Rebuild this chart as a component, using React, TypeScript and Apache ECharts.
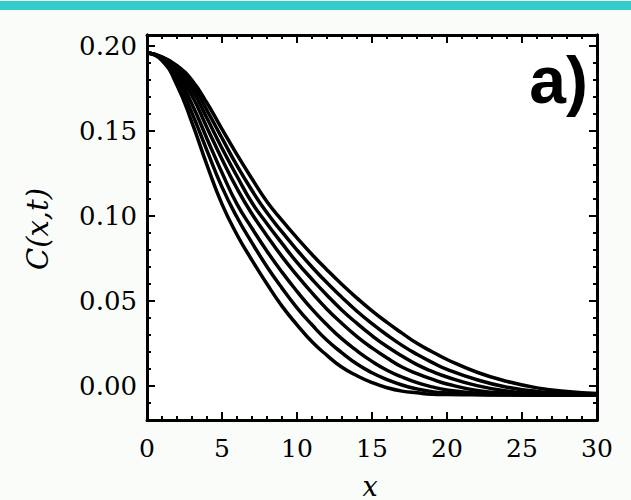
import React, { useEffect, useRef } from "react";
import * as echarts from "echarts";

const X_VALUES = [0, 1, 2, 3, 4, 5, 6, 7, 8, 9, 10, 11, 12, 13, 14, 15, 16, 17, 18, 19, 20, 22, 24, 26, 28, 30];

const CURVE_1 = [0.196, 0.1915, 0.177, 0.155, 0.13, 0.107, 0.089, 0.074, 0.06, 0.047, 0.036, 0.026, 0.018, 0.011, 0.006, 0.002, -0.001, -0.003, -0.004, -0.0048, -0.005, -0.0052, -0.0053, -0.0054, -0.0055, -0.0055];
const CURVE_2 = [0.196, 0.1922, 0.1805, 0.1605, 0.1385, 0.117, 0.0993, 0.0842, 0.0702, 0.0576, 0.046, 0.036, 0.0269, 0.0195, 0.0129, 0.0078, 0.0038, 0.0006, -0.0017, -0.0033, -0.0041, -0.005, -0.0052, -0.0053, -0.0054, -0.0055];
const CURVE_3 = [0.196, 0.1927, 0.1827, 0.1658, 0.1455, 0.1255, 0.107, 0.0928, 0.0793, 0.067, 0.0557, 0.0452, 0.036, 0.0277, 0.0207, 0.0145, 0.0093, 0.0053, 0.002, -0.0005, -0.0023, -0.0043, -0.005, -0.0052, -0.0053, -0.0054];
const CURVE_4 = [0.196, 0.1929, 0.1846, 0.1708, 0.152, 0.1334, 0.1162, 0.1012, 0.0883, 0.0761, 0.0651, 0.0548, 0.0452, 0.0368, 0.0291, 0.0224, 0.0165, 0.0112, 0.0073, 0.004, 0.0012, -0.0026, -0.0043, -0.005, -0.0052, -0.0053];
const CURVE_5 = [0.196, 0.1932, 0.1861, 0.1745, 0.1575, 0.1399, 0.1234, 0.1078, 0.0955, 0.0839, 0.0727, 0.0628, 0.0534, 0.0446, 0.0368, 0.0296, 0.0232, 0.0176, 0.0126, 0.0086, 0.0053, 0.0002, -0.003, -0.0044, -0.005, -0.0051];
const CURVE_6 = [0.196, 0.1934, 0.1875, 0.1775, 0.1622, 0.1458, 0.1296, 0.115, 0.1019, 0.0907, 0.08, 0.07, 0.0607, 0.0521, 0.044, 0.0367, 0.03, 0.0239, 0.0186, 0.0139, 0.0098, 0.0037, -0.0007, -0.0032, -0.0044, -0.005];
const CURVE_7 = [0.196, 0.1936, 0.1885, 0.1798, 0.1665, 0.1511, 0.1361, 0.1219, 0.1084, 0.0975, 0.0872, 0.0774, 0.0683, 0.0597, 0.0517, 0.0442, 0.0374, 0.0311, 0.0251, 0.0202, 0.0156, 0.0081, 0.0027, -0.0011, -0.0033, -0.0044];

const CURVES = [CURVE_1, CURVE_2, CURVE_3, CURVE_4, CURVE_5, CURVE_6, CURVE_7];

const Y_MAJOR_TICKS = [0, 0.05, 0.1, 0.15, 0.2];
const Y_MINOR_TICKS = [-0.01, 0.01, 0.02, 0.03, 0.04, 0.06, 0.07, 0.08, 0.09, 0.11, 0.12, 0.13, 0.14, 0.16, 0.17, 0.18, 0.19];

const Y_MIN = -0.02;
const Y_MAX = 0.2065;

export default function App() {
  const ref = useRef<HTMLDivElement>(null);
  useEffect(() => {
    if (!ref.current) return;
    const chart = echarts.init(ref.current, null, { renderer: "svg" });
    const serif = "DejaVu Serif";
    const axisLine = { show: true, onZero: false, lineStyle: { color: "#000", width: 3 } };
    const makeX = (position: string, labels: boolean) => ({
      type: "value",
      position,
      min: 0,
      max: 30,
      interval: 5,
      axisLine,
      axisTick: { show: true, inside: true, length: 8, lineStyle: { color: "#000", width: 2 } },
      minorTick: { show: true, splitNumber: 5, length: 4, lineStyle: { color: "#000", width: 2 } },
      axisLabel: labels
        ? { show: true, color: "#000", fontFamily: serif, fontSize: 25, margin: 16 }
        : { show: false },
      splitLine: { show: false },
      minorSplitLine: { show: false },
    });
    const makeY = (position: string, ticks: number[], len: number, labels: boolean) => ({
      type: "value",
      position,
      min: Y_MIN,
      max: Y_MAX,
      axisLine,
      axisTick: { show: true, inside: true, length: len, customValues: ticks, lineStyle: { color: "#000", width: 2 } },
      axisLabel: labels
        ? {
            show: true,
            color: "#000",
            fontFamily: serif,
            fontSize: 26,
            margin: 10,
            customValues: ticks,
            formatter: (v: number) => v.toFixed(2),
          }
        : { show: false },
      splitLine: { show: false },
    });
    chart.setOption({
      animation: false,
      backgroundColor: "#fafcfa",
      grid: { left: 147, right: 34, top: 35, bottom: 80, show: true, backgroundColor: "#ffffff", borderWidth: 0 },
      xAxis: [makeX("bottom", true), makeX("top", false)],
      yAxis: [
        makeY("left", Y_MAJOR_TICKS, 8, true),
        makeY("left", Y_MINOR_TICKS, 4, false),
        makeY("right", Y_MAJOR_TICKS, 8, false),
        makeY("right", Y_MINOR_TICKS, 4, false),
      ],
      series: CURVES.map((c, i) => ({
        type: "line",
        name: "curve " + (i + 1),
        xAxisIndex: 0,
        yAxisIndex: 0,
        data: X_VALUES.map((x, j) => [x, c[j]]),
        showSymbol: false,
        smooth: 0.5,
        lineStyle: { color: "#000", width: 3.5 },
      })),
      graphic: [
        { type: "rect", left: 0, top: 1, shape: { width: 631, height: 9 }, style: { fill: "#33cccc" } },
        {
          type: "text",
          x: 38,
          y: 229,
          rotation: Math.PI / 2,
          style: {
            text: "C(x,t)",
            font: "italic 29px 'DejaVu Serif'",
            fill: "#000",
            textAlign: "center",
            textVerticalAlign: "middle",
          },
        },
        {
          type: "text",
          x: 370,
          y: 486,
          style: {
            text: "x",
            font: "italic 27px 'DejaVu Serif'",
            fill: "#000",
            textAlign: "center",
            textVerticalAlign: "middle",
          },
        },
        {
          type: "text",
          x: 588,
          y: 80,
          style: {
            text: "a)",
            font: "bold 66px 'Liberation Sans'",
            fill: "#000",
            textAlign: "right",
            textVerticalAlign: "middle",
          },
        },
      ],
    });
    return () => chart.dispose();
  }, []);
  return <div ref={ref} style={{ position: "fixed", left: 0, top: 0, width: 631, height: 500 }} />;
}
